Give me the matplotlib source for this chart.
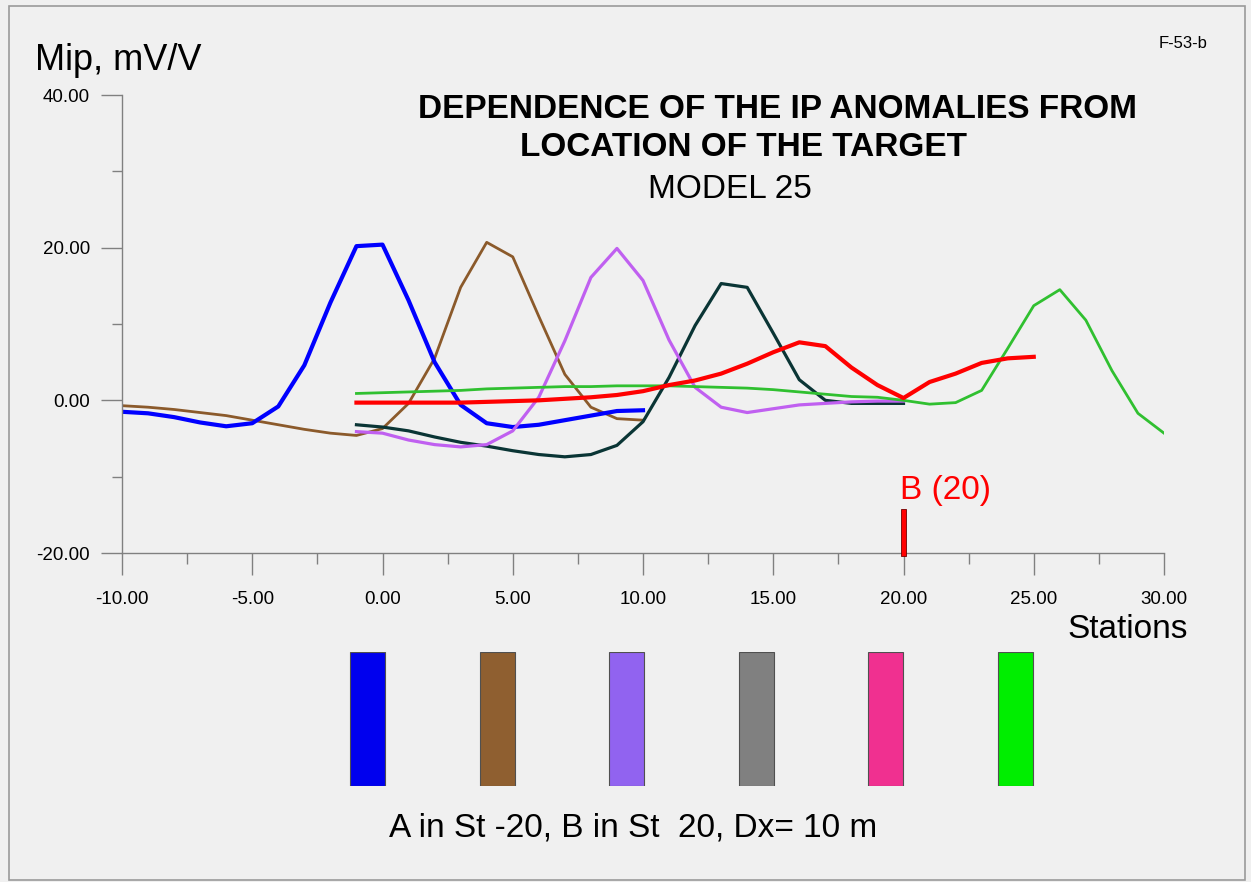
import matplotlib.pyplot as plt
from matplotlib.patches import Rectangle
from matplotlib.ticker import MultipleLocator, FormatStrFormatter

plt.rcParams['font.family'] = ['Liberation Sans', 'DejaVu Sans']

# stations for each profile
st_blue = list(range(-10, 11))
st_brown = list(range(-10, 11))
st_violet = list(range(-1, 21))
st_teal = list(range(-1, 21))
st_red = list(range(-1, 26))
st_green = list(range(-1, 31))

# Mip, mV/V
mip_blue = [-1.5, -1.7, -2.2, -2.9, -3.4, -3.0, -0.8, 4.6, 12.8, 20.2, 20.4,
            13.1, 5.0, -0.6, -3.0, -3.5, -3.2, -2.6, -2.0, -1.4, -1.3]
mip_brown = [-0.7, -0.9, -1.2, -1.6, -2.0, -2.6, -3.2, -3.8, -4.3, -4.6, -3.7,
             -0.4, 5.5, 14.8, 20.7, 18.8, 11.0, 3.4, -0.9, -2.4, -2.6]
mip_violet = [-4.1, -4.3, -5.2, -5.8, -6.1, -5.8, -4.0, 0.4, 7.8, 16.1, 19.9,
              15.7, 7.9, 1.7, -0.9, -1.6, -1.1, -0.6, -0.4, -0.2, -0.1, -0.1]
mip_teal = [-3.2, -3.5, -4.0, -4.8, -5.5, -6.0, -6.6, -7.1, -7.4, -7.1, -5.9,
            -2.8, 3.0, 9.8, 15.3, 14.8, 8.8, 2.7, 0.0, -0.4, -0.4, -0.4]
mip_red = [-0.3, -0.3, -0.3, -0.3, -0.3, -0.2, -0.1, 0.0, 0.2, 0.4, 0.7,
           1.2, 2.0, 2.6, 3.5, 4.8, 6.3, 7.6, 7.1, 4.3, 2.0, 0.3,
           2.4, 3.5, 4.9, 5.5, 5.7]
mip_green = [0.9, 1.0, 1.1, 1.2, 1.3, 1.5, 1.6, 1.7, 1.8, 1.8, 1.9, 1.9,
             1.9, 1.8, 1.7, 1.6, 1.4, 1.1, 0.8, 0.5, 0.4, 0.0, -0.5, -0.3,
             1.3, 6.8, 12.4, 14.5, 10.5, 3.9, -1.7, -4.3]

b_station = 20
b_top = -14.3

target_colors = ['#0000EE', '#8F5F30', '#9163F0', '#808080', '#F03090', '#00EE00']

bg = '#F0F0F0'
fig = plt.figure(figsize=(12.51, 8.82), dpi=100, facecolor=bg)
W, H = 1251, 882

# frame around the sheet
fig.add_artist(Rectangle((9 / W, 1 - 880 / H), 1236 / W, 874 / H,
                         transform=fig.transFigure, fill=False,
                         edgecolor='#9A9A9A', lw=1.2))

ax = fig.add_axes([122 / W, 1 - 553 / H, (1164 - 122) / W, (553 - 95) / H])
ax.set_facecolor('none')

ax.plot(st_brown, mip_brown, color='#8B5A2B', lw=2.0)
ax.plot(st_blue, mip_blue, color='#0000FF', lw=3.0)
ax.plot(st_teal, mip_teal, color='#0A3535', lw=2.3)
ax.plot(st_violet, mip_violet, color='#C060F0', lw=2.3)
ax.plot(st_green, mip_green, color='#30C030', lw=2.0)
ax.plot(st_red, mip_red, color='#FF0000', lw=3.0)

# position of electrode B
ax.bar(b_station, b_top + 20.4, bottom=-20.4, width=0.2, color='#FF0000',
       edgecolor='#700000', lw=0.6, clip_on=False, zorder=5)
ax.text(b_station - 0.13, -11.8, f'B ({b_station})', color='#FF0000',
        fontsize=24, ha='left', va='center')

ax.set_xlim(-10, 30)
ax.set_ylim(-20, 40)
for s in ['top', 'right']:
    ax.spines[s].set_visible(False)
for s in ['left', 'bottom']:
    ax.spines[s].set_color('#808080')
    ax.spines[s].set_linewidth(1.0)

ax.xaxis.set_major_locator(MultipleLocator(5))
ax.xaxis.set_minor_locator(MultipleLocator(2.5))
ax.yaxis.set_major_locator(MultipleLocator(20))
ax.yaxis.set_minor_locator(MultipleLocator(10))
ax.xaxis.set_major_formatter(FormatStrFormatter('%.2f'))
ax.yaxis.set_major_formatter(FormatStrFormatter('%.2f'))
ax.tick_params(axis='x', which='major', length=16, width=1, color='#808080',
               pad=11, labelsize=13.5)
ax.tick_params(axis='x', which='minor', length=8, width=1, color='#808080')
ax.tick_params(axis='y', which='major', length=15, width=1, color='#808080',
               pad=8, labelsize=13.5)
ax.tick_params(axis='y', which='minor', length=7.5, width=1, color='#808080')

fig.text(35 / W, 1 - 60 / H, 'Mip, mV/V', fontsize=26, ha='left', va='center')
fig.text(1188 / W, 1 - 630 / H, 'Stations', fontsize=24, ha='right', va='center')
fig.text(1183 / W, 1 - 44 / H, 'F-53-b', fontsize=12, ha='center', va='center')

fig.text(777 / W, 1 - 109 / H, 'DEPENDENCE OF THE IP ANOMALIES FROM',
         fontsize=24, fontweight='bold', ha='center', va='center')
fig.text(744 / W, 1 - 147 / H, 'LOCATION OF THE TARGET',
         fontsize=24, fontweight='bold', ha='center', va='center')
fig.text(730 / W, 1 - 190 / H, 'MODEL 25', fontsize=24, ha='center', va='center')

# target swatches
lg = fig.add_axes([303 / W, 1 - 786 / H, (1080 - 303) / W, (786 - 652) / H])
lg.set_xlim(0, len(target_colors))
lg.set_ylim(0, 1)
lg.axis('off')
lg.bar([i + 0.5 for i in range(len(target_colors))], 1, width=0.27,
       color=target_colors, edgecolor='#505050', lw=0.8)

fig.text(633 / W, 1 - 828 / H, 'A in St -20, B in St  20, Dx= 10 m',
         fontsize=24, ha='center', va='center')

fig.savefig('out.png', dpi=100, facecolor=bg)
